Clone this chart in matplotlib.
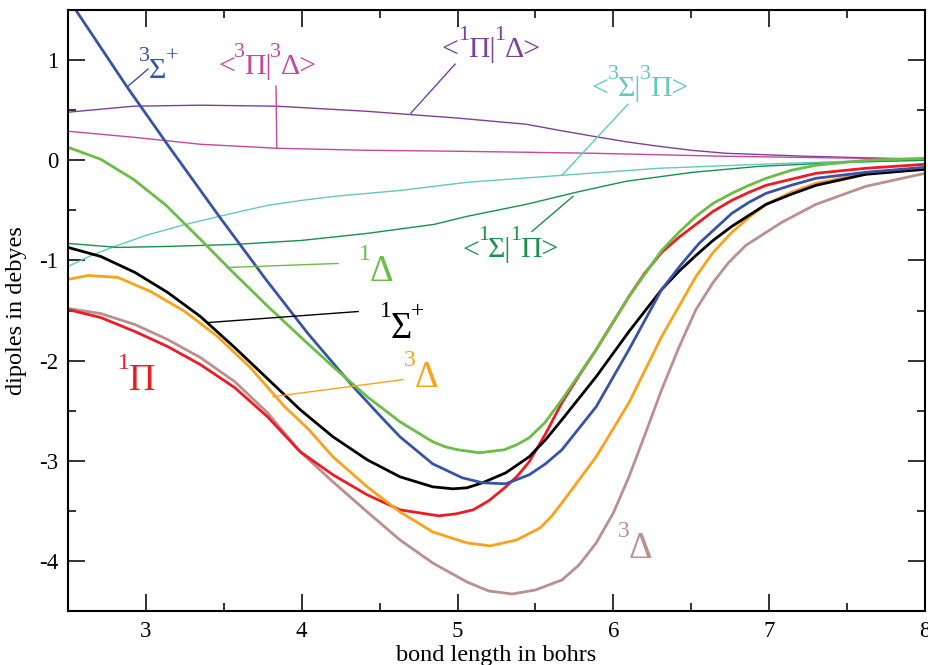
import matplotlib
matplotlib.use("Agg")
import matplotlib.pyplot as plt
from matplotlib.ticker import MultipleLocator
from matplotlib.transforms import offset_copy

plt.rcParams['font.family'] = ['Liberation Serif', 'DejaVu Serif']
plt.rcParams['axes.unicode_minus'] = False

# ---- data ----
x_1sig = [2.5, 2.71, 2.93, 3.14, 3.35, 3.57, 3.78, 3.99, 4.20, 4.42, 4.63, 4.84, 4.97, 5.06, 5.16, 5.31,
          5.46, 5.565, 5.67, 5.89, 6.10, 6.31, 6.42, 6.53, 6.64, 6.76, 6.98, 7.14, 7.30, 7.62, 8.0]
y_1sig = [-0.87, -0.96, -1.12, -1.32, -1.56, -1.87, -2.18, -2.49, -2.76, -2.99, -3.16, -3.26, -3.28, -3.27,
          -3.22, -3.12, -2.96, -2.79, -2.59, -2.16, -1.71, -1.29, -1.11, -0.95, -0.80, -0.66, -0.44, -0.34,
          -0.25, -0.14, -0.09]

x_3del = [2.5, 2.63, 2.82, 3.03, 3.25, 3.46, 3.67, 3.89, 4.04, 4.20, 4.42, 4.63, 4.84, 5.06, 5.21, 5.38,
          5.53, 5.60, 5.67, 5.89, 6.10, 6.31, 6.53, 6.64, 6.76, 6.87, 6.98, 7.14, 7.30, 7.62, 8.0]
y_3del = [-1.19, -1.15, -1.17, -1.31, -1.51, -1.76, -2.07, -2.46, -2.68, -2.96, -3.26, -3.51, -3.71, -3.82,
          -3.85, -3.79, -3.67, -3.56, -3.42, -2.96, -2.42, -1.76, -1.16, -0.92, -0.72, -0.57, -0.44, -0.32,
          -0.23, -0.13, -0.09]

x_1pi = [2.5, 2.71, 2.93, 3.14, 3.35, 3.57, 3.78, 3.99, 4.20, 4.42, 4.63, 4.88, 4.99, 5.10, 5.20, 5.31,
         5.385, 5.46, 5.565, 5.67, 5.78, 5.89, 6.10, 6.20, 6.31, 6.42, 6.53, 6.64, 6.76, 6.87, 6.98, 7.30,
         7.62, 8.0]
y_1pi = [-1.49, -1.57, -1.71, -1.86, -2.04, -2.27, -2.56, -2.91, -3.14, -3.34, -3.49, -3.55, -3.53, -3.49,
         -3.40, -3.26, -3.15, -3.01, -2.73, -2.42, -2.15, -1.89, -1.36, -1.13, -0.92, -0.77, -0.64, -0.51,
         -0.40, -0.32, -0.25, -0.13, -0.08, -0.04]

x_3del_b = [2.5, 2.71, 2.93, 3.14, 3.35, 3.57, 3.78, 3.99, 4.20, 4.42, 4.63, 4.84, 5.06, 5.20, 5.35, 5.50,
            5.67, 5.78, 5.89, 6.00, 6.10, 6.20, 6.31, 6.42, 6.53, 6.64, 6.74, 6.85, 7.08, 7.30, 7.62, 8.0]
y_3del_b = [-1.48, -1.53, -1.64, -1.79, -1.97, -2.21, -2.52, -2.91, -3.21, -3.51, -3.79, -4.02, -4.21, -4.30,
            -4.33, -4.29, -4.19, -4.04, -3.82, -3.52, -3.16, -2.75, -2.29, -1.87, -1.49, -1.22, -1.02, -0.85,
            -0.62, -0.44, -0.26, -0.13]

x_1del = [2.5, 2.71, 2.92, 3.13, 3.35, 3.56, 3.77, 3.99, 4.20, 4.42, 4.63, 4.84, 4.92, 5.0, 5.14, 5.30,
          5.38, 5.46, 5.56, 5.67, 5.89, 6.10, 6.31, 6.42, 6.53, 6.64, 6.76, 6.87, 6.98, 7.14, 7.30, 7.62, 8.0]
y_1del = [0.13, 0.01, -0.19, -0.45, -0.79, -1.12, -1.44, -1.76, -2.06, -2.36, -2.61, -2.81, -2.86, -2.89,
          -2.92, -2.89, -2.84, -2.77, -2.62, -2.39, -1.89, -1.36, -0.90, -0.72, -0.56, -0.43, -0.33, -0.25,
          -0.18, -0.10, -0.05, 0.0, 0.02]

x_3sig = [2.5, 2.55, 2.88, 3.16, 3.47, 3.77, 4.04, 4.33, 4.52, 4.63, 4.84, 5.03, 5.16, 5.31, 5.46, 5.565,
          5.67, 5.89, 6.10, 6.31, 6.43, 6.55, 6.76, 6.87, 6.98, 7.14, 7.30, 7.62, 8.0]
y_3sig = [1.62, 1.50, 0.73, 0.11, -0.56, -1.19, -1.73, -2.26, -2.58, -2.76, -3.03, -3.17, -3.22, -3.23,
          -3.14, -3.03, -2.89, -2.46, -1.89, -1.29, -1.05, -0.83, -0.53, -0.42, -0.33, -0.25, -0.18, -0.12,
          -0.07]

x_pi_del1 = [2.5, 2.92, 3.35, 3.84, 4.41, 5.01, 5.44, 5.65, 5.87, 6.08, 6.29, 6.50, 6.72, 7.24, 8.0]
y_pi_del1 = [0.48, 0.54, 0.55, 0.54, 0.49, 0.42, 0.36, 0.30, 0.24, 0.185, 0.14, 0.10, 0.07, 0.04, 0.01]

x_pi_del3 = [2.5, 2.92, 3.35, 3.84, 4.41, 5.01, 5.87, 6.72, 8.0]
y_pi_del3 = [0.29, 0.23, 0.16, 0.12, 0.10, 0.09, 0.07, 0.04, 0.01]

x_sig_pi3 = [2.5, 2.65, 2.80, 3.0, 3.23, 3.47, 3.78, 4.0, 4.21, 4.64, 5.06, 5.67, 6.29, 6.94, 7.5, 8.0]
y_sig_pi3 = [-1.06, -0.95, -0.86, -0.75, -0.65, -0.56, -0.45, -0.40, -0.36, -0.30, -0.22, -0.15, -0.08,
             -0.04, -0.01, 0.0]

x_sig_pi1 = [2.5, 2.82, 3.14, 3.57, 4.0, 4.42, 4.85, 5.06, 5.44, 5.76, 6.08, 6.51, 6.94, 7.5, 8.0]
y_sig_pi1 = [-0.83, -0.87, -0.86, -0.84, -0.80, -0.73, -0.64, -0.56, -0.44, -0.32, -0.21, -0.12, -0.06,
             -0.02, 0.0]

x_ticks = [3, 4, 5, 6, 7, 8]
y_ticks = [-4, -3, -2, -1, 0, 1]

C_BLUE = '#3953a4'
C_GREEN = '#6abd45'
C_RED = '#ed1c24'
C_BLACK = '#000000'
C_ORANGE = '#faa21b'
C_BROWN = '#bc8f8f'
C_PURPLE = '#7f3f98'
C_PINK = '#c4499c'
C_CYAN = '#62c8c2'
C_DKGREEN = '#16924a'

fig = plt.figure(figsize=(9.29, 6.65), dpi=100)
ax = fig.add_axes([0.0732, 0.0812, 0.9225, 0.9037])

thin = 1.0
thick = 2.0
for xs, ys, c, lw in [
    (x_pi_del1, y_pi_del1, C_PURPLE, thin),
    (x_pi_del3, y_pi_del3, C_PINK, thin),
    (x_sig_pi3, y_sig_pi3, C_CYAN, thin),
    (x_sig_pi1, y_sig_pi1, C_DKGREEN, thin),
    (x_3del_b, y_3del_b, C_BROWN, thick),
    (x_1pi, y_1pi, C_RED, thick),
    (x_3del, y_3del, C_ORANGE, thick),
    (x_1sig, y_1sig, C_BLACK, thick),
    (x_3sig, y_3sig, C_BLUE, thick),
    (x_1del, y_1del, C_GREEN, thick),
]:
    ax.plot(xs, ys, color=c, lw=lw, solid_joinstyle='round')

ax.set_xlim(2.5, 8)
ax.set_ylim(-4.5, 1.5)
ax.set_xticks(x_ticks)
ax.set_yticks(y_ticks)
ax.set_xticklabels([str(v) for v in x_ticks])
ax.set_yticklabels([str(v) for v in y_ticks])
ax.xaxis.set_minor_locator(MultipleLocator(0.5))
ax.yaxis.set_minor_locator(MultipleLocator(0.5))
ax.tick_params(which='both', direction='in', top=True, right=True, width=1.3, color='#222222')
ax.tick_params(which='major', length=12, labelsize=16.5, pad=7)
ax.tick_params(which='minor', length=6)
for s in ax.spines.values():
    s.set_linewidth(1.5)

ax.set_xlabel('bond length in bohrs', fontsize=17.5)
ax.set_ylabel('dipoles in debyes', fontsize=17.5)
ax.xaxis.set_label_coords(0.5, -0.056)
ax.yaxis.set_label_coords(-0.048, 0.5)

# leader lines
leaders = [
    ((2.885, 3.013), (0.74, 0.91), C_BLUE),
    ((3.835, 3.84), (0.74, 0.12), C_PINK),
    ((4.984, 4.70), (0.96, 0.47), C_PURPLE),
    ((6.094, 5.67), (0.56, -0.15), C_CYAN),
    ((5.478, 5.741), (-0.71, -0.36), C_DKGREEN),
    ((3.527, 4.233), (-1.07, -1.03), C_GREEN),
    ((3.399, 4.362), (-1.62, -1.51), C_BLACK),
    ((3.816, 4.65), (-2.36, -2.19), C_ORANGE),
]
for lx, ly, c in leaders:
    ax.plot(lx, ly, color=c, lw=1.0)

# labels built from base glyphs and raised superscripts
renderer = fig.canvas.get_renderer()


def place(x, y, parts, color, base, sup_fs, raise_px, kern=1.0):
    dx = 0.0
    for s, sup in parts:
        fs = sup_fs if sup else base
        dy = raise_px if sup else 0.0
        tr = offset_copy(ax.transData, fig=fig, x=dx, y=dy, units='dots')
        t = ax.text(x, y, s, transform=tr, fontsize=fs, color=color,
                    ha='left', va='baseline', clip_on=False)
        dx += t.get_window_extent(renderer).width - kern


SMALL, SMALL_SUP, SMALL_R = 21.5, 16, 17
BIG, BIG_SUP, BIG_R = 26.5, 17, 21
place(2.956, 0.82, [('3', 1), ('\u03a3', 0), ('+', 1)], C_BLUE, SMALL, SMALL_SUP, SMALL_R)
place(3.463, 0.86, [('<', 0), ('3', 1), ('\u03a0|', 0), ('3', 1), ('\u0394>', 0)], C_PINK,
      SMALL, SMALL_SUP, SMALL_R)
place(4.899, 1.03, [('<', 0), ('1', 1), ('\u03a0|', 0), ('1', 1), ('\u0394>', 0)], C_PURPLE,
      SMALL, SMALL_SUP, SMALL_R)
place(5.861, 0.64, [('<', 0), ('3', 1), ('\u03a3|', 0), ('3', 1), ('\u03a0>', 0)], C_CYAN,
      SMALL, SMALL_SUP, SMALL_R)
place(5.029, -0.97, [('<', 0), ('1', 1), ('\u03a3|', 0), ('1', 1), ('\u03a0>', 0)], C_DKGREEN,
      SMALL, SMALL_SUP, SMALL_R)
place(4.368, -1.21, [('1', 1), ('\u0394', 0)], C_GREEN, BIG, BIG_SUP, BIG_R)
place(4.50, -1.77, [('1', 1), ('\u03a3', 0), ('+', 1)], C_BLACK, BIG, BIG_SUP, BIG_R)
place(4.657, -2.26, [('3', 1), ('\u0394', 0)], C_ORANGE, BIG, BIG_SUP, BIG_R)
place(2.82, -2.29, [('1', 1), ('\u03a0', 0)], C_RED, BIG, BIG_SUP, BIG_R)
place(6.03, -3.97, [('3', 1), ('\u0394', 0)], C_BROWN, BIG, BIG_SUP, BIG_R)

fig.savefig('out.png', dpi=100)
